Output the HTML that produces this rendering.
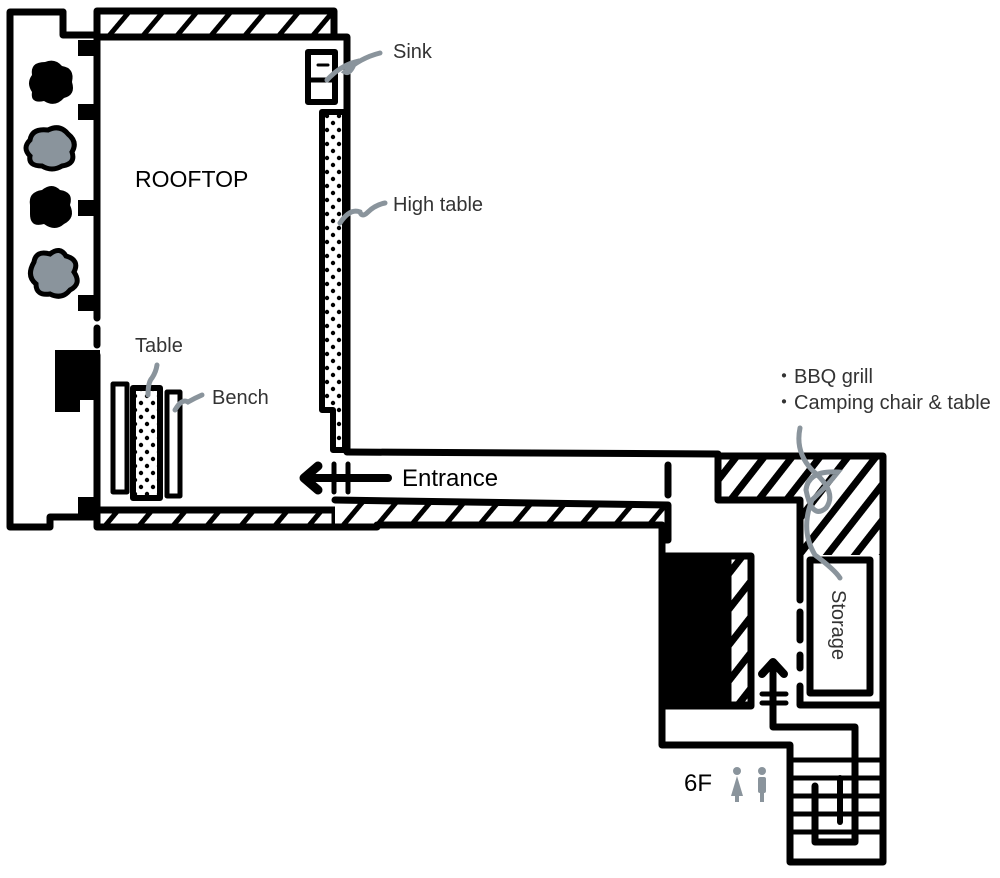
<!DOCTYPE html>
<html><head><meta charset="utf-8"><style>
html,body{margin:0;padding:0;background:#fff;}
svg{display:block;}
text{font-family:"Liberation Sans",sans-serif;}
</style></head><body>
<svg width="1000" height="878" viewBox="0 0 1000 878" xmlns="http://www.w3.org/2000/svg">
<defs>
<pattern id="h1" patternUnits="userSpaceOnUse" width="26" height="26" patternTransform="rotate(40)">
<rect width="26" height="26" fill="#fff"/><rect x="0" y="0" width="5" height="26" fill="#000"/></pattern>
<pattern id="h2" patternUnits="userSpaceOnUse" width="22" height="22" patternTransform="rotate(38)">
<rect width="22" height="22" fill="#fff"/><rect x="0" y="0" width="7" height="22" fill="#000"/></pattern>
<pattern id="dots" patternUnits="userSpaceOnUse" width="12" height="14">
<rect width="12" height="14" fill="#fff"/><circle cx="3" cy="4" r="2.2" fill="#000"/><circle cx="9" cy="11" r="2.2" fill="#000"/></pattern>
</defs>
<g fill="none" stroke="#000" stroke-width="7" stroke-linejoin="round" stroke-linecap="round">
<path d="M63,12 L10,12 L10,527 L50,527 L50,517 L97,517"/>
<path d="M63,12 L63,35 L97,35"/>
<path d="M97,37 L97,318"/>
<path d="M97,328 L97,345"/>
<path d="M97,355 L97,520"/>
<rect x="97" y="11" width="237" height="26" fill="url(#h1)"/>
<path d="M334,37 L347,37 L347,450"/>
<rect x="97" y="510" width="238" height="17" fill="url(#h1)"/>
<path d="M347,452 L718,454"/>
<rect x="335" y="502" width="333" height="22" fill="url(#h1)" stroke="none"/>
<path d="M335,500 L668,505 L668,540 L662,540"/>
<path d="M335,527 L377,527 L377,525 L662,525 L662,545"/>
<path d="M668,465 L668,495"/>
<!-- right block hatched -->
<path d="M718,456 L883,456 L883,555 L800,555 L800,500 L718,500 Z" fill="url(#h2)" stroke="none"/>
<path d="M718,456 L883,456 L883,705"/>
<path d="M718,456 L718,500 L800,500 L800,600"/>
<path d="M800,612 L800,640"/>
<path d="M800,655 L800,668"/>
<path d="M800,686 L800,705 L883,705"/>
<rect x="810" y="560" width="60" height="133" fill="#fff"/>
<rect x="663" y="556" width="88" height="150" fill="url(#h2)"/>
<rect x="663" y="558" width="65" height="148" fill="#000"/>
<path d="M662,545 L662,745 L790,745 L790,862 L883,862 L883,705"/>
<path d="M662,705 L748,705"/>
<path d="M790,760 L883,760 M790,778 L883,778 M790,796 L883,796 M790,814 L883,814 M790,832 L883,832" stroke-width="5"/>
<path d="M773,670 L773,727 L855,727 L855,842 L815,842 L815,786" stroke-width="7"/>
<path d="M840,778 L840,822" stroke-width="6"/>
<path d="M762,674 L773,662 L784,674" stroke-width="8"/>
<path d="M762,694 L786,694 M762,703 L786,703" stroke-width="5"/>
<path d="M322,112 L345,112 L345,450 L333,450 L333,410 L322,410 Z" fill="url(#dots)" stroke-width="6"/>
<rect x="308" y="52" width="27" height="50" fill="#fff" stroke-width="6"/>
<path d="M308,80 L335,80" stroke-width="5"/>
<path d="M318,65 L328,65" stroke-width="3"/>
<rect x="133" y="388" width="27" height="110" fill="url(#dots)" stroke-width="6"/>
<rect x="113" y="384" width="14" height="108" fill="#fff" stroke-width="5"/>
<rect x="167" y="392" width="13" height="104" fill="#fff" stroke-width="5"/>
<path d="M305,478 L388,478" stroke-width="8"/>
<path d="M318,466 L304,478 L318,490" stroke-width="9"/>
<path d="M334,464 L334,492 M348,464 L348,492" stroke-width="5"/>
</g>
<g fill="#000">
<rect x="78" y="40" width="19" height="16"/>
<rect x="78" y="104" width="19" height="16"/>
<rect x="78" y="200" width="19" height="16"/>
<rect x="78" y="295" width="19" height="16"/>
<rect x="78" y="497" width="19" height="18"/>
<path d="M55,350 L100,350 L100,400 L80,400 L80,412 L55,412 Z"/>
<path d="M32,75 Q30,62 45,62 Q55,58 62,66 Q75,68 72,82 Q76,95 64,98 Q55,108 44,101 Q30,104 32,92 Q26,83 32,75Z"/>
<path d="M30,205 Q28,192 42,190 Q52,182 60,190 Q74,192 70,205 Q76,218 64,224 Q55,232 44,224 Q30,228 30,214Z"/>
</g>
<g fill="#8a949c" stroke="#000" stroke-width="5">
<path d="M30,140 Q32,128 48,130 Q60,124 68,134 Q78,142 72,152 Q76,164 62,166 Q52,172 42,166 Q28,166 30,156 Q22,148 30,140Z"/>
<path d="M34,262 Q36,250 50,254 Q60,246 66,256 Q80,260 74,272 Q82,284 70,290 Q62,300 50,294 Q36,296 36,284 Q26,276 34,262Z"/>
</g>
<g fill="none" stroke="#8a949c" stroke-width="5" stroke-linecap="round">
<path d="M327,80 Q340,66 355,62 Q350,75 345,72 Q360,58 380,53"/>
<path d="M340,223 Q350,208 360,212 Q362,218 368,212 Q375,205 385,203"/>
<path d="M148,395 Q148,382 152,378 Q156,372 157,365"/>
<path d="M175,410 Q182,398 188,402 Q195,398 202,395"/>
<path d="M800,428 Q795,452 812,470 Q838,492 826,508 Q812,520 806,490 Q808,470 838,472 Q828,485 812,500 Q800,530 815,555 Q835,570 840,578"/>
</g>
<g fill="#8a949c">
<circle cx="737" cy="771" r="4"/>
<path d="M737,776 L743,796 L731,796 Z"/><rect x="735" y="794" width="4" height="8"/>
<circle cx="762" cy="771" r="4"/>
<rect x="758" y="777" width="8" height="16" rx="2"/><rect x="760" y="790" width="4" height="12"/>
</g>
<text x="135" y="187" font-size="23" fill="#000">ROOFTOP</text>
<text x="393" y="58" font-size="20" fill="#333">Sink</text>
<text x="393" y="211" font-size="20" fill="#333">High table</text>
<text x="135" y="352" font-size="20" fill="#333">Table</text>
<text x="212" y="404" font-size="20" fill="#333">Bench</text>
<text x="402" y="486" font-size="24" fill="#000">Entrance</text>
<text x="774" y="383" font-size="20" fill="#333">・BBQ grill</text>
<text x="774" y="409" font-size="20" fill="#333">・Camping chair &amp; table</text>
<text x="684" y="791" font-size="24" fill="#000">6F</text>
<text x="0" y="0" font-size="20" fill="#333" transform="translate(832,590) rotate(90)">Storage</text>
</svg>
</body></html>
